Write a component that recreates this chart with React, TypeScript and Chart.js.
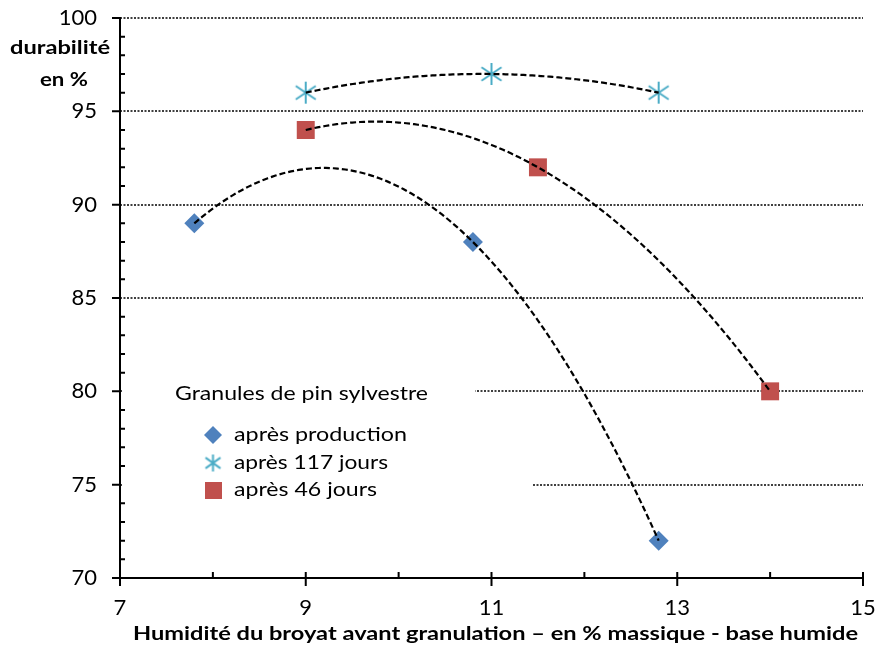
import React, { useEffect, useRef } from 'react';
import { Chart, registerables } from 'chart.js';

Chart.register(...registerables);

// ---- data ----
const seriesNames = ['après production', 'après 117 jours', 'après 46 jours'];
const productionX = [7.8, 10.8, 12.8];
const productionY = [89, 88, 72];
const jours117X = [9, 11, 12.8];
const jours117Y = [96, 97, 96];
const jours46X = [9, 11.5, 14];
const jours46Y = [94, 92, 80];
const xTicks = [7, 9, 11, 13, 15];
const xMinorTicks = [8, 10, 12, 14];
const yTicks = [70, 75, 80, 85, 90, 95, 100];
const legendTitle = 'Granules de pin sylvestre';
const yTitle = ['durabilité', 'en %'];
const xTitle = 'Humidité du broyat avant granulation – en % massique - base humide';

const BLUE = '#4F81BD';
const TEAL = '#4BACC6';
const RED = '#C0504D';
const FONT = 'Lato, "Open Sans", sans-serif';

function makeAsterisk(size: number): HTMLCanvasElement {
  const c = document.createElement('canvas');
  c.width = size;
  c.height = size;
  const g = c.getContext('2d')!;
  const m = size / 2;
  g.strokeStyle = TEAL;
  g.lineWidth = 2;
  g.beginPath();
  g.moveTo(m, 1); g.lineTo(m, size - 1);
  g.moveTo(2, size * 0.22); g.lineTo(size - 2, size * 0.78);
  g.moveTo(2, size * 0.78); g.lineTo(size - 2, size * 0.22);
  g.stroke();
  return c;
}

// least-squares quadratic fit (Excel polynomial trendline, order 2)
function quadFit(xs: number[], ys: number[]): [number, number, number] {
  let s0 = 0, s1 = 0, s2 = 0, s3 = 0, s4 = 0, t0 = 0, t1 = 0, t2 = 0;
  xs.forEach((x, i) => {
    const y = ys[i];
    s0 += 1; s1 += x; s2 += x * x; s3 += x * x * x; s4 += x * x * x * x;
    t0 += y; t1 += x * y; t2 += x * x * y;
  });
  const M = [
    [s4, s3, s2, t2],
    [s3, s2, s1, t1],
    [s2, s1, s0, t0],
  ];
  for (let i = 0; i < 3; i++) {
    for (let k = i + 1; k < 3; k++) {
      const f = M[k][i] / M[i][i];
      for (let j = i; j < 4; j++) M[k][j] -= f * M[i][j];
    }
  }
  const r = [0, 0, 0];
  for (let i = 2; i >= 0; i--) {
    let s = M[i][3];
    for (let j = i + 1; j < 3; j++) s -= M[i][j] * r[j];
    r[i] = s / M[i][i];
  }
  return [r[0], r[1], r[2]];
}

// draw text horizontally stretched to a target width
function stretchText(ctx: CanvasRenderingContext2D, text: string, x: number, y: number, width: number, align: 'left' | 'center') {
  const w = ctx.measureText(text).width;
  const k = width / w;
  ctx.save();
  ctx.textAlign = 'left';
  const left = align === 'center' ? x - width / 2 : x;
  ctx.translate(left, y);
  ctx.scale(k, 1);
  ctx.fillText(text, 0, 0);
  ctx.restore();
}

export default function App() {
  const ref = useRef<HTMLCanvasElement | null>(null);

  useEffect(() => {
    const canvas = ref.current!;
    const asterisk = makeAsterisk(24);
    const asteriskSmall = makeAsterisk(19);

    const decor = {
      id: 'excelDecor',
      beforeDatasetsDraw(chart: any) {
        const { ctx, chartArea: ca, scales } = chart;
        const x = scales.x, y = scales.y;
        ctx.save();
        // dotted gridlines
        ctx.strokeStyle = '#000';
        ctx.lineWidth = 1.5;
        ctx.setLineDash([2, 1.5]);
        for (const v of yTicks) {
          if (v === y.min) continue;
          const py = Math.round(y.getPixelForValue(v));
          ctx.beginPath();
          ctx.moveTo(ca.left, py);
          ctx.lineTo(ca.right, py);
          ctx.stroke();
        }
        ctx.setLineDash([]);
        // legend boxes masking gridlines
        ctx.fillStyle = '#fff';
        ctx.fillRect(ca.left + 2, 376, 475 - ca.left - 2, 30);
        ctx.fillRect(ca.left + 2, 418, 533 - ca.left - 2, 92);

        // axes
        ctx.strokeStyle = '#000';
        ctx.lineWidth = 2;
        ctx.beginPath();
        ctx.moveTo(ca.left, ca.top - 1);
        ctx.lineTo(ca.left, ca.bottom);
        ctx.moveTo(ca.left, ca.bottom);
        ctx.lineTo(ca.right + 1, ca.bottom);
        ctx.stroke();
        ctx.beginPath();
        for (const v of yTicks) {
          const py = y.getPixelForValue(v);
          ctx.moveTo(ca.left - 8, py);
          ctx.lineTo(ca.left, py);
        }
        for (let v = y.min + 1; v < y.max; v++) {
          if (v % 5 === 0) continue;
          const py = y.getPixelForValue(v);
          ctx.moveTo(ca.left, py);
          ctx.lineTo(ca.left + 5, py);
        }
        for (const v of xTicks) {
          const px = x.getPixelForValue(v);
          ctx.moveTo(px, ca.bottom - 6);
          ctx.lineTo(px, ca.bottom + 8);
        }
        for (const v of xMinorTicks) {
          const px = x.getPixelForValue(v);
          ctx.moveTo(px, ca.bottom - 6);
          ctx.lineTo(px, ca.bottom);
        }
        ctx.stroke();
        ctx.restore();
      },
      afterDatasetsDraw(chart: any) {
        const { ctx, scales } = chart;
        const x = scales.x, y = scales.y;
        ctx.save();
        // trendlines
        ctx.strokeStyle = '#000';
        ctx.lineWidth = 2.2;
        ctx.setLineDash([6, 3]);
        chart.data.datasets.forEach((ds: any) => {
          const xs = ds.data.map((p: any) => p.x);
          const ys = ds.data.map((p: any) => p.y);
          const [a, b, c] = quadFit(xs, ys);
          const x0 = Math.min(...xs), x1 = Math.max(...xs);
          ctx.beginPath();
          const n = 120;
          for (let i = 0; i <= n; i++) {
            const xv = x0 + ((x1 - x0) * i) / n;
            const yv = a * xv * xv + b * xv + c;
            const px = x.getPixelForValue(xv), py = y.getPixelForValue(yv);
            if (i === 0) ctx.moveTo(px, py); else ctx.lineTo(px, py);
          }
          ctx.stroke();
        });
        ctx.setLineDash([]);

        // legend
        ctx.fillStyle = '#000';
        ctx.textBaseline = 'middle';
        ctx.font = `19px ${FONT}`;
        stretchText(ctx, legendTitle, 175, 394, 253, 'left');
        const rows = [435, 463, 490];
        const widths = [173, 154, 143];
        rows.forEach((ry, i) => {
          const mx = 213;
          if (i === 0) {
            ctx.fillStyle = BLUE;
            ctx.beginPath();
            ctx.moveTo(mx - 9, ry); ctx.lineTo(mx, ry - 9); ctx.lineTo(mx + 9, ry); ctx.lineTo(mx, ry + 9);
            ctx.closePath();
            ctx.fill();
          } else if (i === 1) {
            ctx.drawImage(asteriskSmall, mx - 9.5, ry - 9.5);
          } else {
            ctx.fillStyle = RED;
            ctx.fillRect(mx - 8, ry - 8, 17, 17);
          }
          ctx.fillStyle = '#000';
          stretchText(ctx, seriesNames[i], 234, ry, widths[i], 'left');
        });

        // axis titles
        ctx.font = `bold 19px ${FONT}`;
        stretchText(ctx, yTitle[0], 60, 48, 100, 'center');
        stretchText(ctx, yTitle[1], 64, 80, 48, 'center');
        ctx.font = `bold 19.5px ${FONT}`;
        stretchText(ctx, xTitle, 495.5, 634, 725, 'center');
        ctx.restore();
      },
    };

    const chart = new Chart(canvas, {
      type: 'scatter',
      data: {
        datasets: [
          {
            label: seriesNames[0],
            data: productionX.map((v, i) => ({ x: v, y: productionY[i] })),
            pointStyle: 'rectRot',
            pointRadius: 10,
            pointHoverRadius: 10,
            backgroundColor: BLUE,
            borderColor: BLUE,
            borderWidth: 0,
          },
          {
            label: seriesNames[1],
            data: jours117X.map((v, i) => ({ x: v, y: jours117Y[i] })),
            pointStyle: asterisk as any,
            pointRadius: 12,
            pointHoverRadius: 12,
            backgroundColor: TEAL,
            borderColor: TEAL,
          },
          {
            label: seriesNames[2],
            data: jours46X.map((v, i) => ({ x: v, y: jours46Y[i] })),
            pointStyle: 'rect',
            pointRadius: 12.7,
            pointHoverRadius: 12.7,
            backgroundColor: RED,
            borderColor: RED,
            borderWidth: 0,
          },
        ],
      },
      options: {
        responsive: false,
        animation: false,
        devicePixelRatio: 1,
        layout: { autoPadding: false, padding: { top: 18, right: 18, left: 0, bottom: 0 } },
        plugins: { legend: { display: false }, tooltip: { enabled: false } },
        scales: {
          x: {
            type: 'linear',
            min: 7,
            max: 15,
            grid: { display: false, drawTicks: false },
            border: { display: false },
            afterFit: (s: any) => { s.height = 68; s.paddingLeft = 0; s.paddingRight = 0; },
            afterBuildTicks: (s: any) => { s.ticks = xTicks.map((v) => ({ value: v })); },
            ticks: { font: { family: FONT, size: 22 }, color: '#000', padding: 17, maxRotation: 0 },
          },
          y: {
            type: 'linear',
            min: 70,
            max: 100,
            grid: { display: false, drawTicks: false },
            border: { display: false },
            afterFit: (s: any) => { s.width = 120; s.paddingTop = 0; s.paddingBottom = 0; },
            afterBuildTicks: (s: any) => { s.ticks = yTicks.map((v) => ({ value: v })); },
            ticks: { font: { family: FONT, size: 22 }, color: '#000', padding: 23 },
          },
        },
      },
      plugins: [decor],
    } as any);

    return () => chart.destroy();
  }, []);

  return (
    <div style={{ position: 'absolute', left: 0, top: 0, width: 881, height: 646, background: '#fff' }}>
      <canvas ref={ref} width={881} height={646} style={{ display: 'block' }} />
    </div>
  );
}
